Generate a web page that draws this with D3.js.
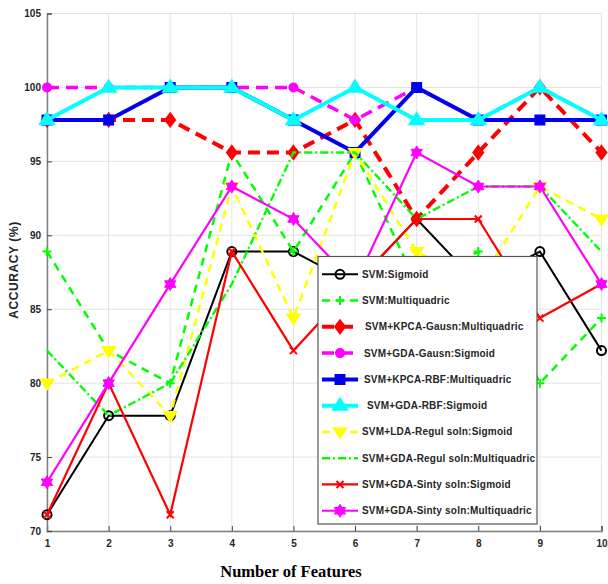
<!DOCTYPE html>
<html>
<head>
<meta charset="utf-8">
<script src="https://cdn.jsdelivr.net/npm/d3@7"></script>
<style>
  body { margin: 0; background: #fff; }
  svg { display: block; }
  text { font-family: "Liberation Sans", Arial, sans-serif; }
</style>
</head>
<body>
<svg id="chart" width="608" height="584"></svg>
<script>
// feature counts on the x axis
const features = [1, 2, 3, 4, 5, 6, 7, 8, 9, 10];
const yTicks = [70, 75, 80, 85, 90, 95, 100, 105];

// accuracy (%) per classifier
const svmSigmoid       = [71.1, 77.8, 77.8, 88.9, 88.9, 86.7, 91.1, 86.7, 88.9, 82.2];
const svmMultiquadric  = [88.9, 82.2, 80.0, 95.6, 88.9, 95.6, 86.7, 88.9, 80.0, 84.4];
const kpcaGausnMq      = [97.8, 97.8, 97.8, 95.6, 95.6, 97.8, 91.1, 95.6, 100, 95.6];
const gdaGausnSig      = [100, 100, 100, 100, 100, 97.8, 100, 97.8, 100, 97.8];
const kpcaRbfMq        = [97.8, 97.8, 100, 100, 97.8, 95.6, 100, 97.8, 97.8, 97.8];
const gdaRbfSig        = [97.8, 100, 100, 100, 97.8, 100, 97.8, 97.8, 100, 97.8];
const ldaRegulSig      = [80.0, 82.2, 77.8, 93.3, 84.4, 95.6, 88.9, 86.7, 93.3, 91.1];
const gdaRegulMq       = [82.2, 77.8, 80.0, 86.7, 95.6, 95.6, 91.1, 93.3, 93.3, 88.9];
const gdaSintySig      = [71.1, 80.0, 71.1, 88.9, 82.2, 86.7, 91.1, 91.1, 84.4, 86.7];
const gdaSintyMq       = [73.3, 80.0, 86.7, 93.3, 91.1, 86.7, 95.6, 93.3, 93.3, 86.7];

const seriesNames = [
    'SVM:Sigmoid',
    'SVM:Multiquadric',
    'SVM+KPCA-Gausn:Multiquadric',
    'SVM+GDA-Gausn:Sigmoid',
    'SVM+KPCA-RBF:Multiquadric',
    'SVM+GDA-RBF:Sigmoid',
    'SVM+LDA-Regul soln:Sigmoid',
    'SVM+GDA-Regul soln:Multiquadric',
    'SVM+GDA-Sinty soln:Sigmoid',
    'SVM+GDA-Sinty soln:Multiquadric'
];
const seriesValues = [svmSigmoid, svmMultiquadric, kpcaGausnMq, gdaGausnSig, kpcaRbfMq,
                      gdaRbfSig, ldaRegulSig, gdaRegulMq, gdaSintySig, gdaSintyMq];

// line / marker styles, same order as the legend
const styles = [
    { color: '#000000', width: 2,   dash: null,        marker: 'circle',   size: 4.5, fill: 'none' },
    { color: '#00ff00', width: 2.5, dash: '8,6',       marker: 'plus',     size: 4.5, fill: 'none' },
    { color: '#ff0000', width: 4,   dash: '12,7',      marker: 'diamond',  size: 6.5, fill: '#ff0000' },
    { color: '#ff00ff', width: 3.5, dash: '12,7',      marker: 'circle',   size: 4,   fill: '#ff00ff' },
    { color: '#0000ee', width: 4,   dash: null,        marker: 'square',   size: 4.5, fill: '#0000ee' },
    { color: '#00ffff', width: 4,   dash: null,        marker: 'triangle', size: 7,   fill: '#00ffff' },
    { color: '#ffff00', width: 2.5, dash: '8,6',       marker: 'tridown',  size: 6,   fill: '#ffff00' },
    { color: '#00ff00', width: 2.4, dash: '8,3,2,3',   marker: null,       size: 0,   fill: 'none' },
    { color: '#ff0000', width: 2.2, dash: null,        marker: 'x',        size: 3.5, fill: 'none' },
    { color: '#ff00ff', width: 2.2, dash: null,        marker: 'hexagram', size: 6.5, fill: '#ff00ff' }
];

function markerPath(type, s) {
    switch (type) {
    case 'circle':
        return `M${s},0A${s},${s} 0 1,1 ${-s},0A${s},${s} 0 1,1 ${s},0Z`;
    case 'plus':
        return `M${-s},0H${s}M0,${-s}V${s}`;
    case 'x':
        return `M${-s},${-s}L${s},${s}M${-s},${s}L${s},${-s}`;
    case 'diamond':
        return `M0,${-s}L${s * 0.75},0L0,${s}L${-s * 0.75},0Z`;
    case 'square':
        return `M${-s},${-s}H${s}V${s}H${-s}Z`;
    case 'triangle':
        return `M0,${-s}L${s},${s * 0.6}L${-s},${s * 0.6}Z`;
    case 'tridown':
        return `M0,${s}L${s},${-s * 0.6}L${-s},${-s * 0.6}Z`;
    case 'hexagram': {
        let pts1 = [], pts2 = [];
        for (let k = 0; k < 3; k++) {
            let a1 = -Math.PI / 2 + k * 2 * Math.PI / 3;
            let a2 = Math.PI / 2 + k * 2 * Math.PI / 3;
            pts1.push([s * Math.cos(a1), s * Math.sin(a1)]);
            pts2.push([s * Math.cos(a2), s * Math.sin(a2)]);
        }
        return 'M' + pts1.join('L') + 'Z' + 'M' + pts2.join('L') + 'Z';
    }
    }
    return '';
}

const svg = d3.select('#chart');

const x = d3.scaleLinear().domain([1, 10]).range([47, 601.5]);
const y = d3.scaleLinear().domain([70, 105]).range([531, 13.5]);

// grid
const grid = svg.append('g').attr('class', 'grid');
grid.selectAll('line.gx')
    .data(features)
    .enter()
    .append('line')
    .attr('x1', (d) => x(d)).attr('x2', (d) => x(d))
    .attr('y1', y(70)).attr('y2', y(105))
    .attr('stroke', '#e3e3e3').attr('stroke-width', 1);
grid.selectAll('line.gy')
    .data(yTicks)
    .enter()
    .append('line')
    .attr('x1', x(1)).attr('x2', x(10))
    .attr('y1', (d) => y(d)).attr('y2', (d) => y(d))
    .attr('stroke', '#e3e3e3').attr('stroke-width', 1);

// axes
const xAxis = d3.axisBottom(x).tickValues(features).tickSize(-5).tickPadding(9).tickFormat(d3.format('d'));
const yAxis = d3.axisLeft(y).tickValues(yTicks).tickSize(-5).tickPadding(6);

const gx = svg.append('g').attr('transform', `translate(0,${y(70)})`).call(xAxis);
const gy = svg.append('g').attr('transform', `translate(${x(1)},0)`).call(yAxis);
[gx, gy].forEach((g) => {
    g.select('.domain').attr('stroke', '#7f7f7f').attr('stroke-width', 1.5);
    g.selectAll('.tick line').attr('stroke', '#444').attr('stroke-width', 1);
    g.selectAll('.tick text')
        .attr('fill', '#262626')
        .style('font-family', '"Liberation Sans", Arial, sans-serif')
        .style('font-size', '10px')
        .style('font-weight', 'bold');
});

// series
const plot = svg.append('g').attr('class', 'series');
const line = d3.line().x((d, i) => x(features[i])).y((d) => y(d));

seriesValues.forEach((vals, i) => {
    let st = styles[i];
    let g = plot.append('g');
    g.append('path')
        .datum(vals)
        .attr('d', line)
        .attr('fill', 'none')
        .attr('stroke', st.color)
        .attr('stroke-width', st.width)
        .attr('stroke-dasharray', st.dash)
        .attr('stroke-linejoin', 'miter');
    if (st.marker) {
        g.selectAll('path.m')
            .data(vals)
            .enter()
            .append('path')
            .attr('class', 'm')
            .attr('transform', (d, j) => `translate(${x(features[j])},${y(d)})`)
            .attr('d', markerPath(st.marker, st.size))
            .attr('fill', st.fill)
            .attr('stroke', st.color)
            .attr('stroke-width', st.marker === 'hexagram' ? 1 : 2);
    }
});

// legend
const legend = svg.append('g').attr('class', 'legend');
legend.append('rect')
    .attr('x', 318).attr('y', 256.5)
    .attr('width', 219).attr('height', 267.5)
    .attr('fill', '#fff')
    .attr('stroke', '#555').attr('stroke-width', 1.2);

const rows = legend.selectAll('g.row')
    .data(seriesNames)
    .enter()
    .append('g')
    .attr('class', 'row')
    .attr('transform', (d, i) => `translate(0,${274.3 + i * 26.27})`);

rows.append('line')
    .attr('x1', 322).attr('x2', 358)
    .attr('y1', 0).attr('y2', 0)
    .attr('stroke', (d, i) => styles[i].color)
    .attr('stroke-width', (d, i) => styles[i].width)
    .attr('stroke-dasharray', (d, i) => styles[i].dash);

rows.filter((d, i) => styles[i].marker)
    .append('path')
    .attr('transform', 'translate(340,0)')
    .attr('d', (d) => {
        let i = seriesNames.indexOf(d);
        return markerPath(styles[i].marker, styles[i].size);
    })
    .attr('fill', (d) => styles[seriesNames.indexOf(d)].fill)
    .attr('stroke', (d) => styles[seriesNames.indexOf(d)].color)
    .attr('stroke-width', (d) => styles[seriesNames.indexOf(d)].marker === 'hexagram' ? 1 : 2);

rows.append('text')
    .attr('x', (d, i) => [362, 362, 365, 364, 364, 367, 362, 362, 362, 362][i])
    .attr('y', 3.5)
    .attr('fill', '#262626')
    .style('font-size', '10px')
    .style('font-weight', 'bold')
    .style('letter-spacing', '0.2px')
    .text((d) => d);

// axis titles
svg.append('text')
    .attr('transform', `translate(18,${270}) rotate(-90)`)
    .attr('text-anchor', 'middle')
    .attr('fill', '#262626')
    .style('font-size', '12px')
    .style('font-weight', 'bold')
    .style('letter-spacing', '0.6px')
    .text('ACCURACY (%)');

svg.append('text')
    .attr('x', 291).attr('y', 577)
    .attr('text-anchor', 'middle')
    .attr('fill', '#000')
    .style('font-family', '"Liberation Serif", "Times New Roman", serif')
    .style('font-size', '16.5px')
    .style('font-weight', 'bold')
    .text('Number of Features');
</script>
</body>
</html>
